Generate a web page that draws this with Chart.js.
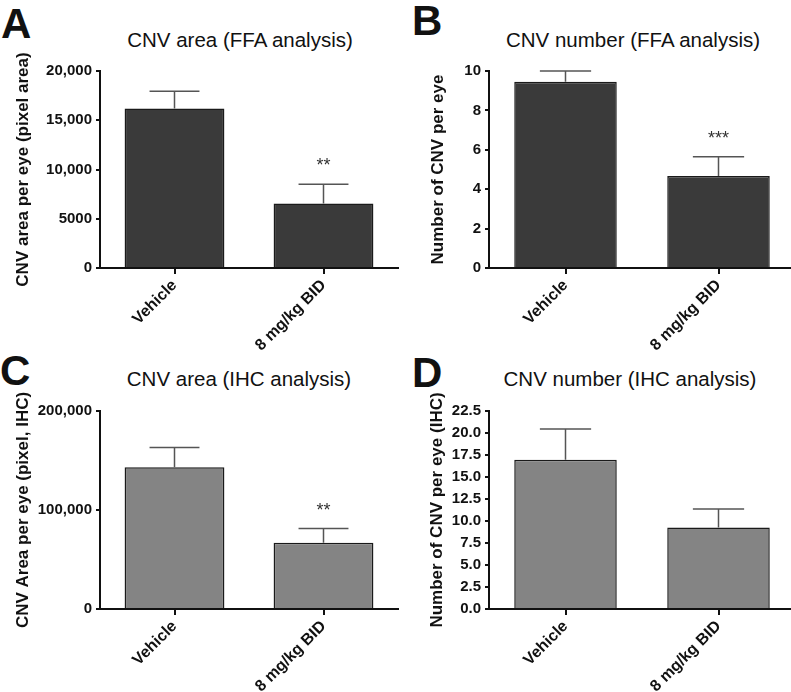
<!DOCTYPE html>
<html>
<head>
<meta charset="utf-8">
<script src="https://cdn.jsdelivr.net/npm/chart.js@4/dist/chart.umd.min.js"></script>
<style>
  body { margin: 0; background: #fff; width: 791px; height: 692px; position: relative; overflow: hidden;
         font-family: "Liberation Sans", Arial, sans-serif; color: #111; }
  canvas { position: absolute; }
  .letter { position: absolute; font-weight: bold; font-size: 42px; line-height: 42px; }
  .title { position: absolute; font-size: 20.5px; line-height: 20px; width: 300px; text-align: center; white-space: nowrap; }
</style>
</head>
<body>
<div class="letter" style="left:1px;top:3px">A</div>
<div class="letter" style="left:412px;top:0px">B</div>
<div class="letter" style="left:0px;top:350px">C</div>
<div class="letter" style="left:412px;top:352px">D</div>

<div class="title" style="left:90px;top:30px">CNV area (FFA analysis)</div>
<div class="title" style="left:483px;top:30px">CNV number (FFA analysis)</div>
<div class="title" style="left:89px;top:369px">CNV area (IHC analysis)</div>
<div class="title" style="left:480px;top:369px">CNV number (IHC analysis)</div>

<canvas id="chartA" width="400" height="360" style="left:0;top:0"></canvas>
<canvas id="chartB" width="400" height="360" style="left:395px;top:0"></canvas>
<canvas id="chartC" width="400" height="352" style="left:0;top:340px"></canvas>
<canvas id="chartD" width="400" height="352" style="left:395px;top:340px"></canvas>

<script>
// groups on the x axis
const groups = ['Vehicle', '8 mg/kg BID'];

// A - CNV area, FFA
const areaFFA = [16200, 6550];
const areaFFAErr = [1750, 1950];
const areaFFASig = ['', '**'];
const areaFFATicks = ['0', '5000', '10,000', '15,000', '20,000'];

// B - CNV number, FFA
const numFFA = [9.45, 4.67];
const numFFAErr = [0.55, 0.98];
const numFFASig = ['', '***'];
const numFFATicks = ['0', '2', '4', '6', '8', '10'];

// C - CNV area, IHC
const areaIHC = [143200, 66900];
const areaIHCErr = [20000, 14300];
const areaIHCSig = ['', '**'];
const areaIHCTicks = ['0', '100,000', '200,000'];

// D - CNV number, IHC
const numIHC = [16.95, 9.27];
const numIHCErr = [3.5, 2.1];
const numIHCSig = ['', ''];
const numIHCTicks = ['0.0', '2.5', '5.0', '7.5', '10.0', '12.5', '15.0', '17.5', '20.0', '22.5'];

Chart.defaults.font.family = '"Liberation Sans", Arial, sans-serif';
Chart.defaults.color = '#111';

// error bars (upper only) + significance stars
const errorBars = {
  id: 'errorBars',
  afterDatasetsDraw(chart, args, opts) {
    const ctx = chart.ctx;
    const y = chart.scales.y;
    const ds = chart.data.datasets[0];
    chart.getDatasetMeta(0).data.forEach((bar, i) => {
      const top = y.getPixelForValue(ds.data[i] + opts.errors[i]);
      const half = bar.width / 4;
      ctx.save();
      ctx.strokeStyle = '#555';
      ctx.lineWidth = 1.5;
      ctx.beginPath();
      ctx.moveTo(bar.x, bar.y);
      ctx.lineTo(bar.x, top);
      ctx.moveTo(bar.x - half, top);
      ctx.lineTo(bar.x + half, top);
      ctx.stroke();
      if (opts.stars[i]) {
        ctx.fillStyle = '#333';
        ctx.font = '18px "Liberation Sans", Arial, sans-serif';
        ctx.textAlign = 'center';
        ctx.textBaseline = 'alphabetic';
        ctx.fillText(opts.stars[i], bar.x, top - 13);
      }
      ctx.restore();
    });
  }
};

function panel(id, cfg) {
  const h = document.getElementById(id).height;
  return new Chart(document.getElementById(id), {
    type: 'bar',
    data: {
      labels: groups,
      datasets: [{
        data: cfg.values,
        backgroundColor: cfg.color,
        borderColor: '#1a1a1a',
        borderWidth: 1.5,
        barPercentage: 0.67,
        categoryPercentage: 1
      }]
    },
    options: {
      responsive: false,
      animation: false,
      layout: { padding: { top: 71, left: 0, right: cfg.padRight, bottom: 0 } },
      plugins: {
        legend: { display: false },
        tooltip: { enabled: false },
        errorBars: { errors: cfg.errors, stars: cfg.stars }
      },
      scales: {
        x: {
          afterFit: s => { s.height = h - cfg.bottom; },
          border: { display: true, color: '#111', width: 2 },
          grid: { display: true, drawOnChartArea: false, drawTicks: true, tickLength: 6, offset: false, color: '#111', lineWidth: 2 },
          ticks: { minRotation: 45, maxRotation: 45, autoSkip: false, padding: 2, font: { size: 16, weight: 'bold' } }
        },
        y: {
          min: 0,
          max: cfg.max,
          afterFit: s => { s.width = cfg.left; },
          border: { display: true, color: '#111', width: 2 },
          grid: { display: true, drawOnChartArea: false, drawTicks: true, tickLength: 4, color: '#111', lineWidth: 2 },
          ticks: {
            stepSize: cfg.step,
            padding: 4,
            font: { size: 15, weight: 'bold' },
            callback: (v, i) => cfg.ticks[i]
          },
          title: {
            display: true,
            text: cfg.yTitle,
            font: { size: 17, weight: 'bold' },
            padding: { top: cfg.titlePad, bottom: 0 }
          }
        }
      }
    },
    plugins: [errorBars]
  });
}

panel('chartA', {
  values: areaFFA, errors: areaFFAErr, stars: areaFFASig, ticks: areaFFATicks,
  max: 20000, step: 5000, color: '#3a3a3a',
  yTitle: 'CNV area per eye (pixel area)', left: 100, padRight: 2, bottom: 268, titlePad: 13
});
panel('chartB', {
  values: numFFA, errors: numFFAErr, stars: numFFASig, ticks: numFFATicks,
  max: 10, step: 2, color: '#3a3a3a',
  yTitle: 'Number of CNV per eye', left: 94, padRight: 0, bottom: 268, titlePad: 33
});
panel('chartC', {
  values: areaIHC, errors: areaIHCErr, stars: areaIHCSig, ticks: areaIHCTicks,
  max: 200000, step: 100000, color: '#848484',
  yTitle: 'CNV Area per eye (pixel, IHC)', left: 100, padRight: 2, bottom: 269, titlePad: 13
});
panel('chartD', {
  values: numIHC, errors: numIHCErr, stars: numIHCSig, ticks: numIHCTicks,
  max: 22.5, step: 2.5, color: '#848484',
  yTitle: 'Number of CNV per eye (IHC)', left: 94, padRight: 0, bottom: 269, titlePad: 32
});
</script>
</body>
</html>
